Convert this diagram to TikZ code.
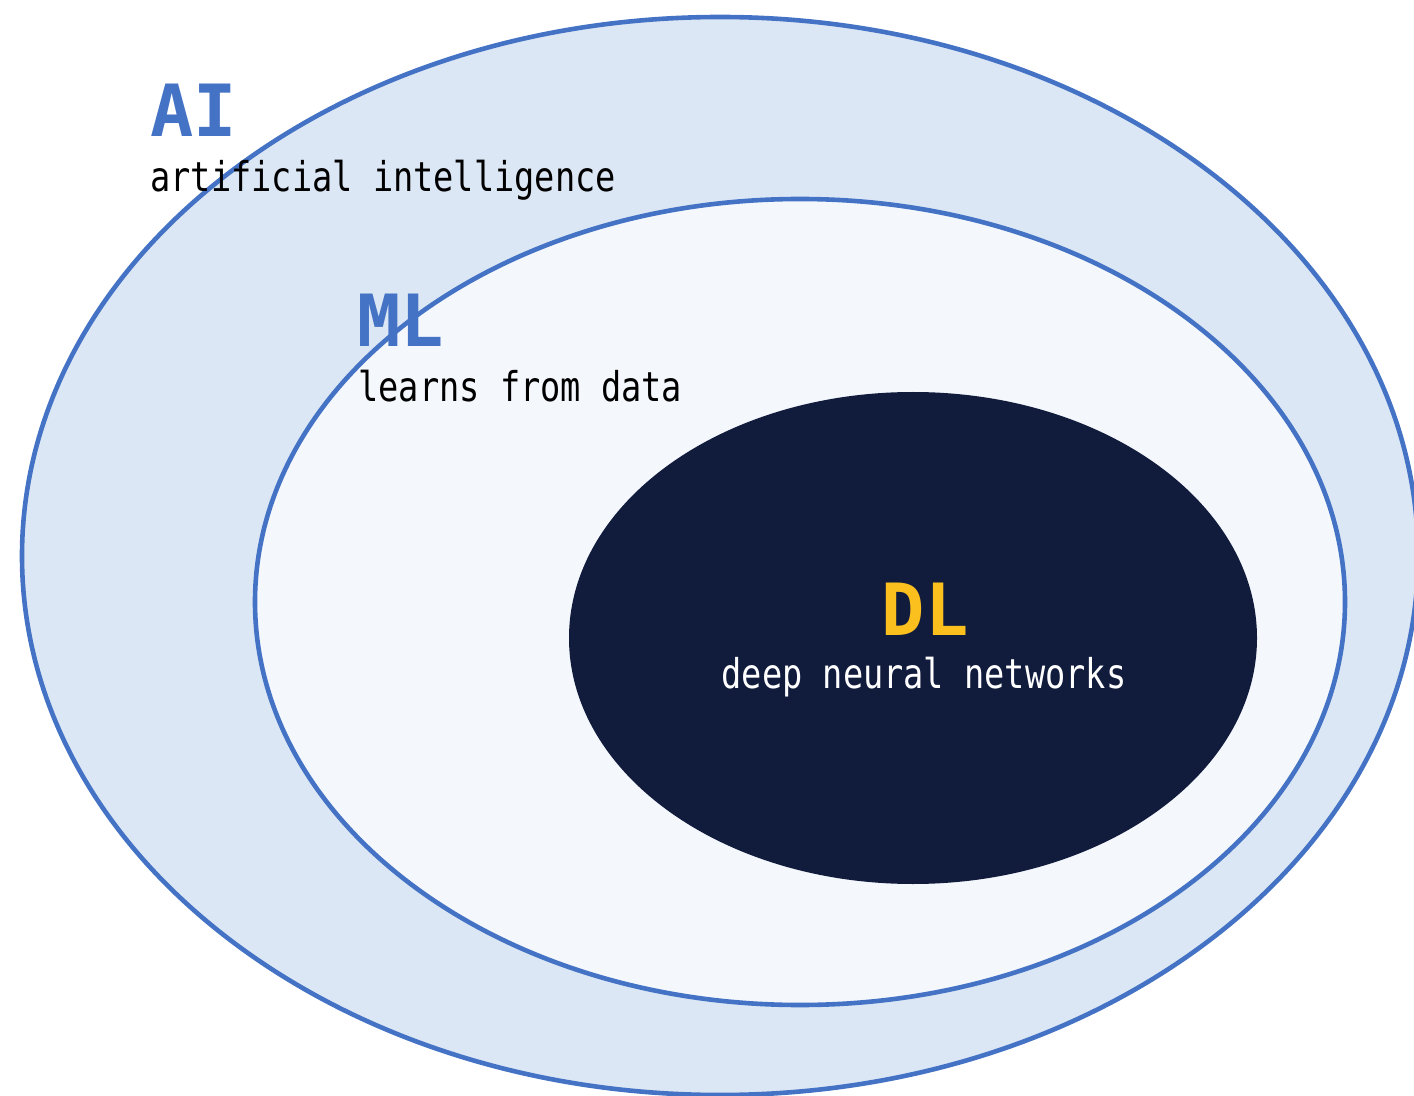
\documentclass[tikz,border=0pt]{standalone}
\usepackage{fontspec}
\newfontfamily\titlefont{DejaVu Sans Mono}
\newfontfamily\subfont{DejaVu Sans Mono}[FakeStretch=0.82]
\definecolor{ringblue}{HTML}{4472C4}
\definecolor{aifill}{HTML}{DCE7F5}
\definecolor{mlfill}{HTML}{F4F7FC}
\definecolor{dlfill}{HTML}{111C3D}
\definecolor{dlgold}{HTML}{FBBF1E}
\tikzset{
  ring/.style={draw=ringblue, line width=2.3pt},
  title/.style={anchor=base west, inner sep=0pt, font=\titlefont\bfseries\fontsize{36}{40}\selectfont},
  subtitle/.style={anchor=base west, inner sep=0pt, font=\subfont\fontsize{20.5}{24}\selectfont},
}
\begin{document}
\begin{tikzpicture}[x=0.5pt, y=-0.5pt]
  \useasboundingbox (0,0) rectangle (1414,1096);
  \clip (0,0) rectangle (1414,1096);
  % nested sets: AI contains ML contains DL
  \draw[ring, fill=aifill] (720,556) ellipse [x radius=698, y radius=539];
  \draw[ring, fill=mlfill] (800,602) ellipse [x radius=545, y radius=403];
  \fill[dlfill] (913,638) ellipse [x radius=344, y radius=246];
  % labels
  \node[title, text=ringblue] (aiT) at (150,137) {AI};
  \node[subtitle, text=black] (aiS) at (150,192) {artificial intelligence};
  \node[title, text=ringblue] (mlT) at (357,347) {ML};
  \node[subtitle, text=black] (mlS) at (358,402) {learns from data};
  \node[title, text=dlgold, anchor=base] (dlT) at (925,635) {DL};
  \node[subtitle, text=white, anchor=base] (dlS) at (924,688) {deep neural networks};
\end{tikzpicture}
\end{document}
